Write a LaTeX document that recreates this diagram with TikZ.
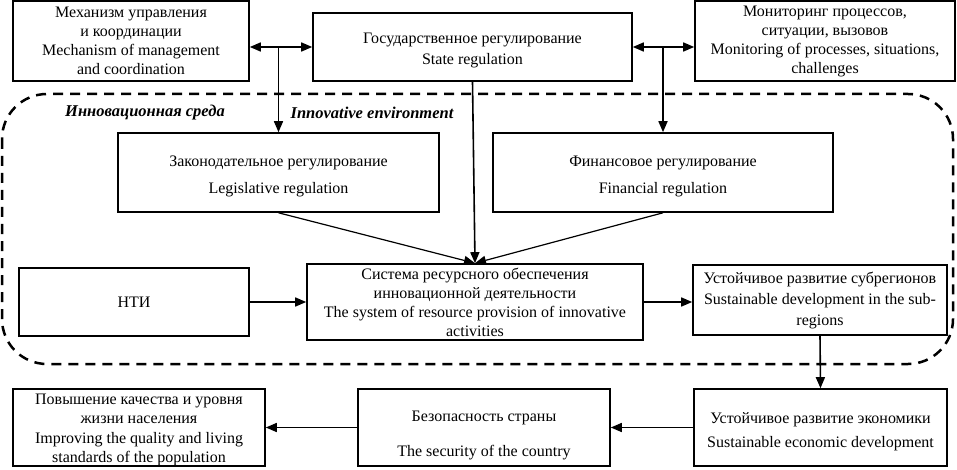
\documentclass[tikz,border=0pt]{standalone}
\usepackage{fontspec}
\setmainfont{Liberation Serif}
\usetikzlibrary{arrows.meta,calc}
\tikzset{
  box/.style={draw,line width=1.6pt,inner sep=0pt,align=center,font=\fontsize{16}{19}\selectfont},
  txt/.style={inner sep=0pt,align=center,font=\fontsize{16}{19}\selectfont},
  conn/.style={line width=1.6pt,-{Triangle[length=11pt,width=9pt]}},
  dconn/.style={line width=1.6pt,{Triangle[length=11pt,width=9pt]}-{Triangle[length=11pt,width=9pt]}},
  thinconn/.style={line width=1.2pt,-{Triangle[length=11pt,width=9pt]}},
  envlabel/.style={font=\fontsize{16.5}{19}\selectfont\bfseries\itshape},
  envframe/.style={line width=2.5pt,dash pattern=on 10pt off 7pt,rounded corners=45pt}
}
\begin{document}
\begin{tikzpicture}[x=1pt,y=-1pt]
\useasboundingbox (0,0) rectangle (957,470);
% dashed frame
\draw[envframe] (2,94) rectangle (953,364);
\node[envlabel] (lru) at (145,113) {Инновационная среда};
\node[envlabel] (len) at (372,113) {Innovative environment};
% boxes
\node[box,minimum width=236pt,minimum height=80pt] (A) at (131,41) {Механизм управления\\и координации\\Mechanism of management\\and coordination};
\node[box,minimum width=319pt,minimum height=68pt] (B) at (472.5,47) {};
\node[txt] (BT) at (472.5,50) {Государственное регулирование\\[2pt]State regulation};
\node[box,minimum width=260pt,minimum height=80pt] (C) at (825,41) {Мониторинг процессов,\\ситуации, вызовов\\Monitoring of processes, situations,\\challenges};
\node[box,minimum width=321pt,minimum height=79pt] (Leg) at (278.5,172.5) {};
\node[txt] (LegT) at (278.5,176.5) {Законодательное регулирование\\[8pt]Legislative regulation};
\node[box,minimum width=340pt,minimum height=79pt] (Fin) at (663,172.5) {};
\node[txt] (FinT) at (663,176.5) {Финансовое регулирование\\[8pt]Financial regulation};
\node[box,minimum width=336pt,minimum height=76pt] (Sys) at (475,302) {Система ресурсного обеспечения\\инновационной деятельности\\The system of resource provision of innovative\\activities};
\node[box,minimum width=230pt,minimum height=68pt] (NTI) at (134,302) {НТИ};
\node[box,minimum width=254pt,minimum height=70pt] (Sub) at (820,300) {Устойчивое развитие субрегионов\\[2pt]Sustainable development in the sub-\\[2pt]regions};
\node[box,minimum width=252pt,minimum height=77pt] (Pop) at (139,427.5) {};
\node[txt] (PopT) at (139,429.5) {Повышение качества и уровня\\жизни населения\\[1pt]Improving the quality and living\\standards of the population};
\node[box,minimum width=252pt,minimum height=77pt] (Sec) at (484,427.5) {};
\node[txt] (SecT) at (484,435) {Безопасность страны\\[16pt]The security of the country};
\node[box,minimum width=253pt,minimum height=77pt] (Econ) at (820.5,427.5) {};
\node[txt] (EconT) at (820.5,432) {Устойчивое развитие экономики\\[5pt]Sustainable economic development};
% connectors
\draw[dconn] (A.east |- B.west) -- (B.west);
\draw[dconn] (B.east) -- (C.west |- B.east);
\draw[conn] (Leg.north |- B.west) -- (Leg.north);
\draw[conn] (Fin.north |- B.east) -- (Fin.north);
\draw[conn] (B.south) -- (Sys.north);
\draw[thinconn] (Leg.south) -- (Sys.north);
\draw[thinconn] (Fin.south) -- (Sys.north);
\draw[conn] (NTI.east) -- (Sys.west);
\draw[conn] (Sys.east) -- (Sys.east -| Sub.west);
\draw[conn] (Sub.south) -- (Econ.north);
\draw[conn] (Econ.west) -- (Sec.east);
\draw[conn] (Sec.west) -- (Pop.east);
\end{tikzpicture}
\end{document}
